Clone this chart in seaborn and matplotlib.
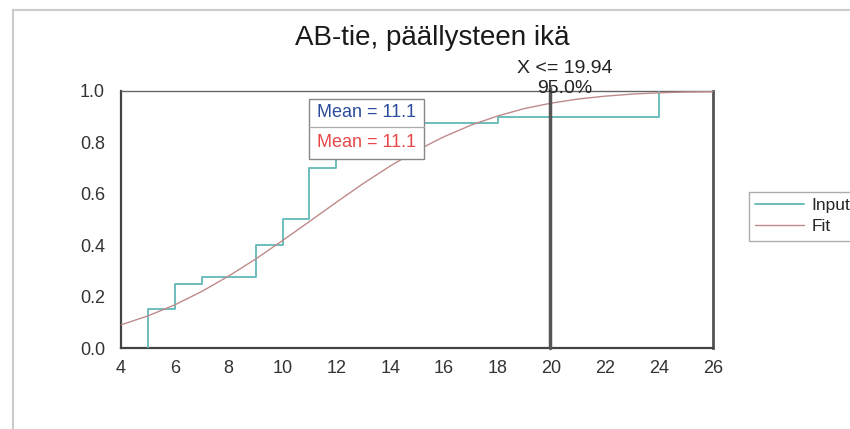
import numpy as np
import pandas as pd
import matplotlib
matplotlib.use("Agg")
import matplotlib.pyplot as plt
from matplotlib.patches import Rectangle
from matplotlib.lines import Line2D
import seaborn as sns

# Input data: pavement age (years) and number of road sections with that age
input_ages = [5, 6, 7, 9, 10, 11, 12, 13, 14, 15, 18, 24]
input_counts = [6, 4, 1, 5, 4, 8, 2, 1, 1, 3, 1, 4]

# Fitted cumulative distribution, read at whole years
fit_x = [4, 5, 6, 7, 8, 9, 10, 11, 12, 13, 14, 15, 16, 17, 18, 19, 20, 21, 22, 23, 24, 25, 26]
fit_cdf = [0.090, 0.125, 0.168, 0.220, 0.280, 0.346, 0.418, 0.492, 0.567, 0.640, 0.708,
           0.769, 0.822, 0.867, 0.903, 0.932, 0.953, 0.969, 0.980, 0.988, 0.993, 0.996, 0.997]

input_mean = 11.1
fit_mean = 11.1
x_limit = 19.94
x_limit_pct = 95.0

x_ticks = list(range(4, 27, 2))
y_ticks = [0.0, 0.2, 0.4, 0.6, 0.8, 1.0]

sns.set_style("white")
plt.rcParams["font.family"] = ["Liberation Sans", "DejaVu Sans"]

input_color = "#62b8b8"
fit_color = "#c08a8a"
axis_color = "#444444"

fig = plt.figure(figsize=(8.5, 4.29), dpi=100)
ax = fig.add_axes([0.1424, 0.1888, 0.6965, 0.5991])

df = pd.DataFrame({"age": input_ages, "n": input_counts})
sns.ecdfplot(data=df, x="age", weights="n", ax=ax, color=input_color, lw=1.3, zorder=3)
sns.lineplot(x=fit_x, y=fit_cdf, ax=ax, color=fit_color, lw=1.0, zorder=4)

ax.set_xlim(4, 26)
ax.set_ylim(0, 1)
ax.set_xticks(x_ticks)
ax.set_xticklabels([str(t) for t in x_ticks])
ax.set_yticks(y_ticks)
ax.set_yticklabels([f"{t:.1f}" for t in y_ticks])
ax.set_xlabel("")
ax.set_ylabel("")
ax.tick_params(axis="both", labelsize=13, colors=axis_color, labelcolor="#333333",
               direction="inout", length=5, width=1)
ax.tick_params(axis="x", pad=6)
ax.tick_params(axis="y", pad=9)

for side in ["left", "bottom"]:
    ax.spines[side].set_color(axis_color)
    ax.spines[side].set_linewidth(1.6)
ax.spines["top"].set_color("#666666")
ax.spines["top"].set_linewidth(1.0)
ax.spines["right"].set_color("#555555")
ax.spines["right"].set_linewidth(2.0)

# Percentile marker
ax.plot([x_limit, x_limit], [0, 1.01], color="#555555", lw=2.5, zorder=6, clip_on=False)
ax.text(20.47, 1.089, f"X <= {x_limit:.2f}", ha="center", va="center",
        fontsize=14, color="#222222")
ax.text(20.47, 1.008, f"{x_limit_pct:.1f}%", ha="center", va="center",
        fontsize=14, color="#222222", zorder=7)

# Mean statistics box
bx0, bx1 = 10.99, 15.26
by0, ymid, by1 = 0.735, 0.861, 0.969
ax.add_patch(Rectangle((bx0, by0), bx1 - bx0, by1 - by0, facecolor="white",
                       edgecolor="#888888", lw=1.0, zorder=8))
ax.plot([bx0, bx1], [ymid, ymid], color="#aaaaaa", lw=0.9, zorder=9)
ax.text((bx0 + bx1) / 2, (by1 + ymid) / 2, f"Mean = {input_mean:.1f}", ha="center",
        va="center", fontsize=13, color="#2b4b9b", zorder=10)
ax.text((bx0 + bx1) / 2, (ymid + by0) / 2, f"Mean = {fit_mean:.1f}", ha="center",
        va="center", fontsize=13, color="#e8474a", zorder=10)

fig.text(0.509, 0.911, "AB-tie, päällysteen ikä", ha="center", va="center",
         fontsize=20, color="#1a1a1a")

handles = [Line2D([], [], color=input_color, lw=1.3),
           Line2D([], [], color=fit_color, lw=1.0)]
leg = fig.legend(handles, ["Input", "Fit"], loc="upper left",
                 bbox_to_anchor=(749 / 850, 1 - 192 / 429), fontsize=12.5,
                 frameon=True, fancybox=False, handlelength=2.8, handletextpad=0.45,
                 borderpad=0.35, labelspacing=0.35, borderaxespad=0)
leg.get_frame().set_edgecolor("#999999")
leg.get_frame().set_linewidth(1.0)

# Chart area frame
fig.add_artist(Line2D([13 / 850, 13 / 850], [0, 1 - 10 / 429], color="#cccccc",
                      lw=1.5, transform=fig.transFigure))
fig.add_artist(Line2D([13 / 850, 1], [1 - 10 / 429, 1 - 10 / 429], color="#cccccc",
                      lw=1.5, transform=fig.transFigure))

fig.savefig("out.png", dpi=100)
